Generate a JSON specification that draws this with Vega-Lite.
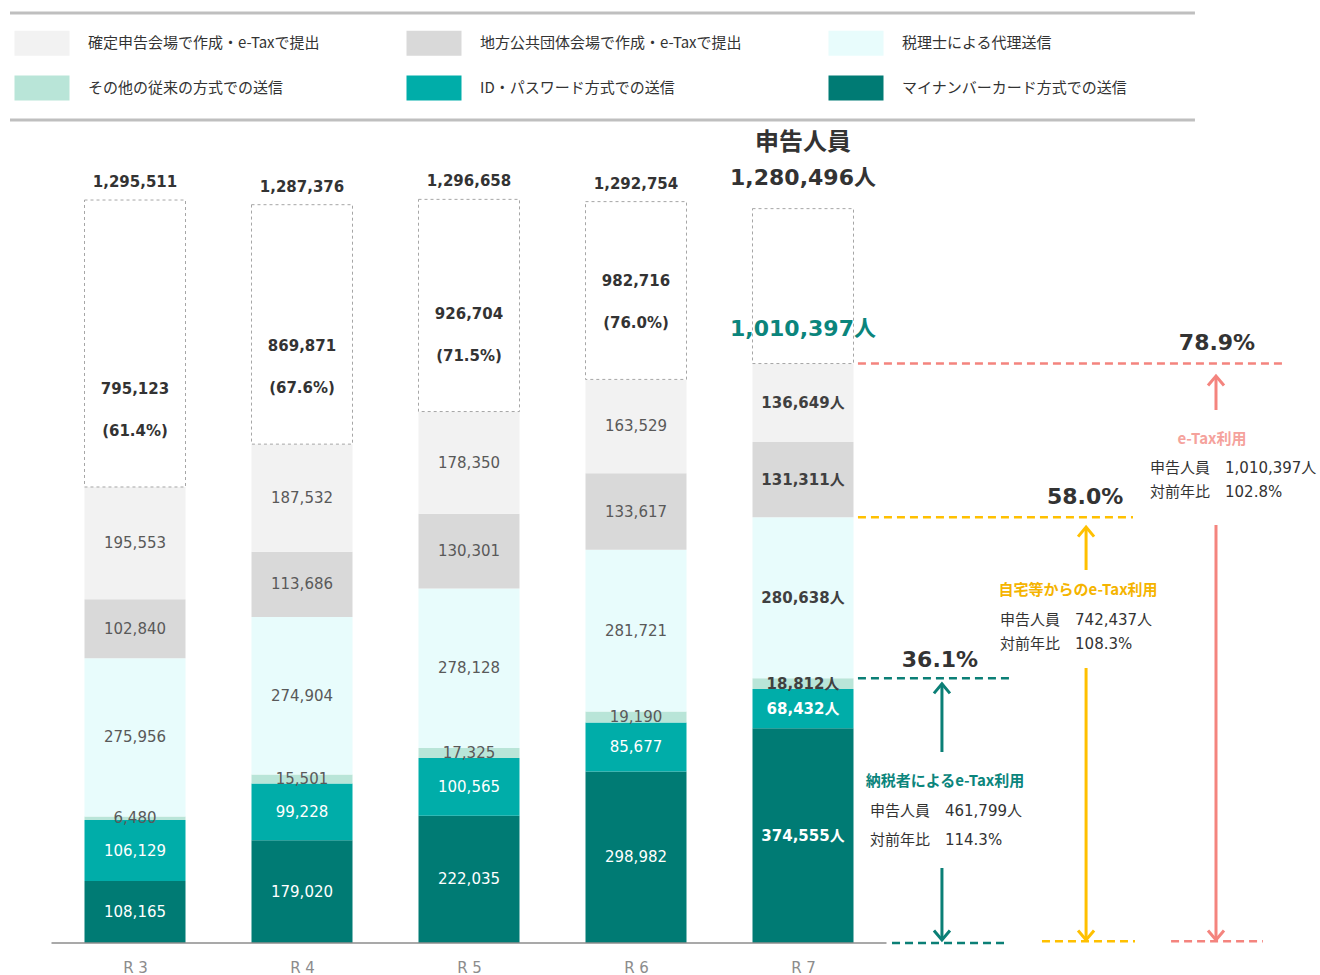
{
  "$schema": "https://vega.github.io/schema/vega-lite/v6.json",
  "width": 1320,
  "height": 943,
  "autosize": {"type": "none"},
  "padding": {"left": 0, "top": 0, "right": 0, "bottom": 32},
  "background": "white",
  "config": {"view": {"stroke": null}, "font": "DejaVu Sans"},
  "datasets": {
    "seg": [
      {"year": "R3", "x": 1, "cat": "マイナンバーカード方式での送信", "ord": 1, "value": 108165},
      {"year": "R3", "x": 1, "cat": "ID・パスワード方式での送信", "ord": 2, "value": 106129},
      {"year": "R3", "x": 1, "cat": "その他の従来の方式での送信", "ord": 3, "value": 6480},
      {"year": "R3", "x": 1, "cat": "税理士による代理送信", "ord": 4, "value": 275956},
      {"year": "R3", "x": 1, "cat": "地方公共団体会場で作成・e-Taxで提出", "ord": 5, "value": 102840},
      {"year": "R3", "x": 1, "cat": "確定申告会場で作成・e-Taxで提出", "ord": 6, "value": 195553},
      {"year": "R4", "x": 2, "cat": "マイナンバーカード方式での送信", "ord": 1, "value": 179020},
      {"year": "R4", "x": 2, "cat": "ID・パスワード方式での送信", "ord": 2, "value": 99228},
      {"year": "R4", "x": 2, "cat": "その他の従来の方式での送信", "ord": 3, "value": 15501},
      {"year": "R4", "x": 2, "cat": "税理士による代理送信", "ord": 4, "value": 274904},
      {"year": "R4", "x": 2, "cat": "地方公共団体会場で作成・e-Taxで提出", "ord": 5, "value": 113686},
      {"year": "R4", "x": 2, "cat": "確定申告会場で作成・e-Taxで提出", "ord": 6, "value": 187532},
      {"year": "R5", "x": 3, "cat": "マイナンバーカード方式での送信", "ord": 1, "value": 222035},
      {"year": "R5", "x": 3, "cat": "ID・パスワード方式での送信", "ord": 2, "value": 100565},
      {"year": "R5", "x": 3, "cat": "その他の従来の方式での送信", "ord": 3, "value": 17325},
      {"year": "R5", "x": 3, "cat": "税理士による代理送信", "ord": 4, "value": 278128},
      {"year": "R5", "x": 3, "cat": "地方公共団体会場で作成・e-Taxで提出", "ord": 5, "value": 130301},
      {"year": "R5", "x": 3, "cat": "確定申告会場で作成・e-Taxで提出", "ord": 6, "value": 178350},
      {"year": "R6", "x": 4, "cat": "マイナンバーカード方式での送信", "ord": 1, "value": 298982},
      {"year": "R6", "x": 4, "cat": "ID・パスワード方式での送信", "ord": 2, "value": 85677},
      {"year": "R6", "x": 4, "cat": "その他の従来の方式での送信", "ord": 3, "value": 19190},
      {"year": "R6", "x": 4, "cat": "税理士による代理送信", "ord": 4, "value": 281721},
      {"year": "R6", "x": 4, "cat": "地方公共団体会場で作成・e-Taxで提出", "ord": 5, "value": 133617},
      {"year": "R6", "x": 4, "cat": "確定申告会場で作成・e-Taxで提出", "ord": 6, "value": 163529},
      {"year": "R7", "x": 5, "cat": "マイナンバーカード方式での送信", "ord": 1, "value": 374555},
      {"year": "R7", "x": 5, "cat": "ID・パスワード方式での送信", "ord": 2, "value": 68432},
      {"year": "R7", "x": 5, "cat": "その他の従来の方式での送信", "ord": 3, "value": 18812},
      {"year": "R7", "x": 5, "cat": "税理士による代理送信", "ord": 4, "value": 280638},
      {"year": "R7", "x": 5, "cat": "地方公共団体会場で作成・e-Taxで提出", "ord": 5, "value": 131311},
      {"year": "R7", "x": 5, "cat": "確定申告会場で作成・e-Taxで提出", "ord": 6, "value": 136649}
    ],
    "tot": [
      {"year": "R3", "x": 1, "etax": 795123, "total": 1295511},
      {"year": "R4", "x": 2, "etax": 869871, "total": 1287376},
      {"year": "R5", "x": 3, "etax": 926704, "total": 1296658},
      {"year": "R6", "x": 4, "etax": 982716, "total": 1292754},
      {"year": "R7", "x": 5, "etax": 1010397, "total": 1280496}
    ],
    "base": [{"x": 0.5, "x2": 5.5, "y": 0}],
    "frame": [
      {"x": 0.2515, "x2": 7.347, "y": 1621600},
      {"x": 0.2515, "x2": 7.347, "y": 1435000}
    ],
    "lines": [
      {"g": "teal", "x": 5.329, "x2": 6.24, "y": 461799},
      {"g": "teal", "x": 5.533, "x2": 6.216, "y": 0},
      {"g": "yellow", "x": 5.329, "x2": 6.976, "y": 742437},
      {"g": "yellow", "x": 6.431, "x2": 6.988, "y": 3000},
      {"g": "salmon", "x": 5.329, "x2": 7.886, "y": 1010397},
      {"g": "salmon", "x": 7.204, "x2": 7.754, "y": 3000}
    ],
    "arrows": [
      {"g": "teal", "x": 5.832, "y": 333000, "y2": 452000, "head": "up"},
      {"g": "teal", "x": 5.832, "y": 130800, "y2": 5200, "head": "down"},
      {"g": "yellow", "x": 6.695, "y": 650400, "y2": 725400, "head": "up"},
      {"g": "yellow", "x": 6.695, "y": 479500, "y2": 5200, "head": "down"},
      {"g": "salmon", "x": 7.473, "y": 929400, "y2": 988700, "head": "up"},
      {"g": "salmon", "x": 7.473, "y": 728900, "y2": 5200, "head": "down"}
    ],
    "pcts": [
      {"t": "36.1%", "x": 5.82, "y": 493500},
      {"t": "58.0%", "x": 6.689, "y": 777700},
      {"t": "78.9%", "x": 7.479, "y": 1046200}
    ],
    "titles": [
      {"t": "納税者によるe-Tax利用", "g": "teal", "x": 5.85, "y": 282500},
      {"t": "自宅等からのe-Tax利用", "g": "yellow", "x": 6.647, "y": 615500},
      {"t": "e-Tax利用", "g": "salmon", "x": 7.449, "y": 878800}
    ],
    "body": [
      {"t": "申告人員　461,799人", "x": 5.401, "y": 230200},
      {"t": "対前年比　114.3%", "x": 5.401, "y": 179600},
      {"t": "申告人員　742,437人", "x": 6.18, "y": 563200},
      {"t": "対前年比　108.3%", "x": 6.18, "y": 521400},
      {"t": "申告人員　1,010,397人", "x": 7.078, "y": 828300},
      {"t": "対前年比　102.8%", "x": 7.078, "y": 786400}
    ]
  },
  "encoding": {
    "x": {
      "field": "x",
      "type": "quantitative",
      "scale": {"domain": [0.1916, 8.0958], "nice": false, "zero": false, "padding": 0},
      "axis": {
        "values": [1, 2, 3, 4, 5],
        "labelExpr": "'R ' + (datum.value + 2)",
        "domain": false,
        "ticks": false,
        "grid": false,
        "title": null,
        "labelColor": "#8C8C8C",
        "labelFont": "DejaVu Sans",
        "labelFontSize": 15,
        "labelPadding": 17
      }
    }
  },
  "layer": [
    {
      "data": {"name": "seg"},
      "transform": [
        {"stack": "value", "groupby": ["x"], "sort": [{"field": "ord", "order": "ascending"}], "as": ["y0", "y1"]}
      ],
      "mark": {"type": "bar", "size": 101, "orient": "vertical"},
      "encoding": {
        "y": {"field": "y0", "type": "quantitative", "scale": {"domain": [0, 1644300], "nice": false, "zero": false}, "axis": null},
        "y2": {"field": "y1"},
        "color": {
          "field": "cat",
          "type": "nominal",
          "scale": {
            "domain": ["確定申告会場で作成・e-Taxで提出", "地方公共団体会場で作成・e-Taxで提出", "税理士による代理送信", "その他の従来の方式での送信", "ID・パスワード方式での送信", "マイナンバーカード方式での送信"],
            "range": ["#F2F2F2", "#D9D9D9", "#E8FCFC", "#B9E5D8", "#00ADA9", "#007B74"]
          },
          "legend": {
            "orient": "none",
            "legendX": 22,
            "legendY": 23,
            "direction": "horizontal",
            "columns": 3,
            "title": null,
            "symbolType": "M-1.375,-0.625H1.375V0.625H-1.375Z",
            "symbolSize": 1600,
            "symbolStrokeWidth": 0,
            "symbolOpacity": 1,
            "labelFont": "Noto Sans CJK JP",
            "labelFontSize": 15,
            "labelColor": "#333333",
            "labelOffset": 26,
            "labelLimit": 400,
            "columnPadding": 86,
            "rowPadding": 12
          }
        }
      }
    },
    {
      "data": {"name": "tot"},
      "mark": {"type": "bar", "size": 101, "orient": "vertical", "fill": "white", "stroke": "#A6A6A6", "strokeDash": [3, 3], "strokeWidth": 1},
      "encoding": {
        "y": {"field": "etax", "type": "quantitative", "scale": {"domain": [0, 1644300], "nice": false, "zero": false}, "axis": null},
        "y2": {"field": "total"}
      }
    },
    {
      "data": {"name": "base"},
      "mark": {"type": "rule", "color": "#8C8C8C", "strokeWidth": 1.5},
      "encoding": {
        "x2": {"field": "x2"},
        "y": {"field": "y", "type": "quantitative", "scale": {"domain": [0, 1644300], "nice": false, "zero": false}, "axis": null}
      }
    },
    {
      "data": {"name": "frame"},
      "mark": {"type": "rule", "color": "#BFBFBF", "strokeWidth": 3},
      "encoding": {
        "x2": {"field": "x2"},
        "y": {"field": "y", "type": "quantitative", "scale": {"domain": [0, 1644300], "nice": false, "zero": false}, "axis": null}
      }
    },
    {
      "data": {"name": "seg"},
      "transform": [
        {"stack": "value", "groupby": ["x"], "sort": [{"field": "ord", "order": "ascending"}], "as": ["y0", "y1"]},
        {"filter": "datum.year !== 'R7'"},
        {"calculate": "(datum.y0 + datum.y1) / 2", "as": "mid"}
      ],
      "mark": {"type": "text", "font": "DejaVu Sans", "fontSize": 15, "baseline": "middle"},
      "encoding": {
        "y": {"field": "mid", "type": "quantitative", "scale": {"domain": [0, 1644300], "nice": false, "zero": false}, "axis": null},
        "text": {"field": "value", "type": "quantitative", "format": ","},
        "color": {"condition": {"test": "datum.ord <= 2", "value": "#FFFFFF"}, "value": "#595959"}
      }
    },
    {
      "data": {"name": "seg"},
      "transform": [
        {"stack": "value", "groupby": ["x"], "sort": [{"field": "ord", "order": "ascending"}], "as": ["y0", "y1"]},
        {"filter": "datum.year === 'R7'"},
        {"calculate": "(datum.y0 + datum.y1) / 2", "as": "mid"},
        {"calculate": "format(datum.value, ',') + '人'", "as": "lab"}
      ],
      "mark": {"type": "text", "font": "DejaVu Sans, Noto Sans CJK JP", "fontSize": 15, "fontWeight": "bold", "baseline": "middle"},
      "encoding": {
        "y": {"field": "mid", "type": "quantitative", "scale": {"domain": [0, 1644300], "nice": false, "zero": false}, "axis": null},
        "text": {"field": "lab", "type": "nominal"},
        "color": {"condition": {"test": "datum.ord <= 2", "value": "#FFFFFF"}, "value": "#404040"}
      }
    },
    {
      "data": {"name": "tot"},
      "transform": [{"filter": "datum.year !== 'R7'"}],
      "mark": {"type": "text", "font": "DejaVu Sans", "fontSize": 15, "fontWeight": "bold", "baseline": "middle", "dy": -18, "color": "#333333"},
      "encoding": {
        "y": {"field": "total", "type": "quantitative", "scale": {"domain": [0, 1644300], "nice": false, "zero": false}, "axis": null},
        "text": {"field": "total", "type": "quantitative", "format": ","}
      }
    },
    {
      "data": {"name": "tot"},
      "transform": [{"filter": "datum.year !== 'R7'"}],
      "mark": {"type": "text", "font": "DejaVu Sans", "fontSize": 15, "fontWeight": "bold", "baseline": "middle", "dy": -98, "color": "#333333"},
      "encoding": {
        "y": {"field": "etax", "type": "quantitative", "scale": {"domain": [0, 1644300], "nice": false, "zero": false}, "axis": null},
        "text": {"field": "etax", "type": "quantitative", "format": ","}
      }
    },
    {
      "data": {"name": "tot"},
      "transform": [
        {"filter": "datum.year !== 'R7'"},
        {"calculate": "'(' + format(datum.etax / datum.total, '.1%') + ')'", "as": "pl"}
      ],
      "mark": {"type": "text", "font": "DejaVu Sans", "fontSize": 15, "fontWeight": "bold", "baseline": "middle", "dy": -56, "color": "#333333"},
      "encoding": {
        "y": {"field": "etax", "type": "quantitative", "scale": {"domain": [0, 1644300], "nice": false, "zero": false}, "axis": null},
        "text": {"field": "pl", "type": "nominal"}
      }
    },
    {
      "data": {"name": "tot"},
      "transform": [
        {"filter": "datum.year === 'R7'"},
        {"calculate": "format(datum.total, ',') + '人'", "as": "tl"}
      ],
      "mark": {"type": "text", "font": "DejaVu Sans, Noto Sans CJK JP", "fontSize": 22, "fontWeight": "bold", "baseline": "middle", "dy": -31, "color": "#333333"},
      "encoding": {
        "y": {"field": "total", "type": "quantitative", "scale": {"domain": [0, 1644300], "nice": false, "zero": false}, "axis": null},
        "text": {"field": "tl", "type": "nominal"}
      }
    },
    {
      "data": {"name": "tot"},
      "transform": [{"filter": "datum.year === 'R7'"}],
      "mark": {"type": "text", "font": "Noto Sans CJK JP", "fontSize": 24, "fontWeight": "bold", "baseline": "middle", "dy": -66, "color": "#333333", "text": "申告人員"},
      "encoding": {
        "y": {"field": "total", "type": "quantitative", "scale": {"domain": [0, 1644300], "nice": false, "zero": false}, "axis": null}
      }
    },
    {
      "data": {"name": "tot"},
      "transform": [
        {"filter": "datum.year === 'R7'"},
        {"calculate": "format(datum.etax, ',') + '人'", "as": "el"}
      ],
      "mark": {"type": "text", "font": "DejaVu Sans, Noto Sans CJK JP", "fontSize": 22, "fontWeight": "bold", "baseline": "middle", "dy": -35, "color": "#0B857C"},
      "encoding": {
        "y": {"field": "etax", "type": "quantitative", "scale": {"domain": [0, 1644300], "nice": false, "zero": false}, "axis": null},
        "text": {"field": "el", "type": "nominal"}
      }
    },
    {
      "data": {"name": "lines"},
      "mark": {"type": "rule", "strokeWidth": 2.5, "strokeDash": [8, 5]},
      "encoding": {
        "x2": {"field": "x2"},
        "y": {"field": "y", "type": "quantitative", "scale": {"domain": [0, 1644300], "nice": false, "zero": false}, "axis": null},
        "stroke": {"field": "g", "type": "nominal", "scale": {"domain": ["teal", "yellow", "salmon"], "range": ["#0B7F76", "#FFC000", "#F4847E"]}, "legend": null}
      }
    },
    {
      "data": {"name": "arrows"},
      "mark": {"type": "rule", "strokeWidth": 3},
      "encoding": {
        "y": {"field": "y", "type": "quantitative", "scale": {"domain": [0, 1644300], "nice": false, "zero": false}, "axis": null},
        "y2": {"field": "y2"},
        "stroke": {"field": "g", "type": "nominal", "scale": {"domain": ["teal", "yellow", "salmon"], "range": ["#0B7F76", "#FFC000", "#F4847E"]}, "legend": null}
      }
    },
    {
      "data": {"name": "arrows"},
      "mark": {"type": "point", "filled": false, "strokeWidth": 3, "size": 256, "opacity": 1},
      "encoding": {
        "y": {"field": "y2", "type": "quantitative", "scale": {"domain": [0, 1644300], "nice": false, "zero": false}, "axis": null},
        "stroke": {"field": "g", "type": "nominal", "scale": {"domain": ["teal", "yellow", "salmon"], "range": ["#0B7F76", "#FFC000", "#F4847E"]}, "legend": null},
        "shape": {"field": "head", "type": "nominal", "scale": {"domain": ["up", "down"], "range": ["M-1,1.2L0,0L1,1.2", "M-1,-1.2L0,0L1,-1.2"]}, "legend": null}
      }
    },
    {
      "data": {"name": "pcts"},
      "mark": {"type": "text", "font": "DejaVu Sans", "fontSize": 22, "fontWeight": "bold", "baseline": "middle", "color": "#333333"},
      "encoding": {
        "y": {"field": "y", "type": "quantitative", "scale": {"domain": [0, 1644300], "nice": false, "zero": false}, "axis": null},
        "text": {"field": "t", "type": "nominal"}
      }
    },
    {
      "data": {"name": "titles"},
      "mark": {"type": "text", "font": "Noto Sans CJK JP", "fontSize": 15, "fontWeight": "bold", "baseline": "middle"},
      "encoding": {
        "y": {"field": "y", "type": "quantitative", "scale": {"domain": [0, 1644300], "nice": false, "zero": false}, "axis": null},
        "text": {"field": "t", "type": "nominal"},
        "fill": {"field": "g", "type": "nominal", "scale": {"domain": ["teal", "yellow", "salmon"], "range": ["#0B857C", "#F5B400", "#F5A29C"]}, "legend": null}
      }
    },
    {
      "data": {"name": "body"},
      "mark": {"type": "text", "font": "DejaVu Sans, Noto Sans CJK JP", "fontSize": 15, "baseline": "middle", "align": "left", "color": "#333333"},
      "encoding": {
        "y": {"field": "y", "type": "quantitative", "scale": {"domain": [0, 1644300], "nice": false, "zero": false}, "axis": null},
        "text": {"field": "t", "type": "nominal"}
      }
    }
  ]
}
